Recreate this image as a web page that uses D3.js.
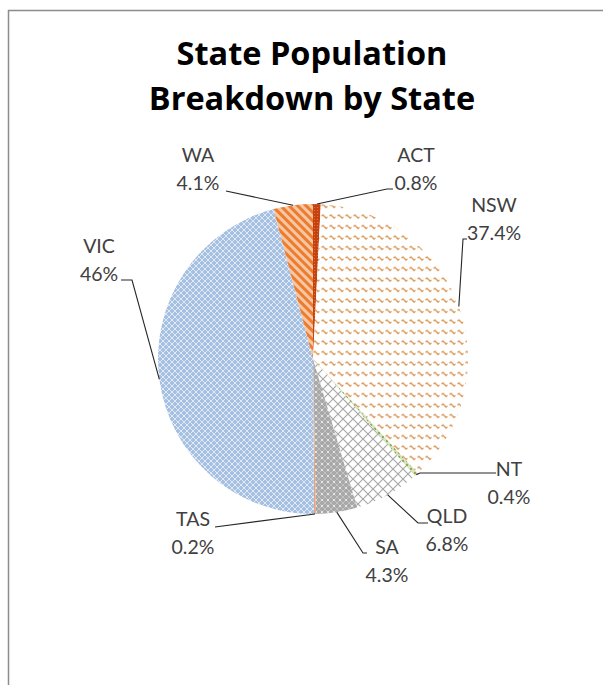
<!DOCTYPE html>
<html>
<head>
<meta charset="utf-8">
<script src="https://cdn.jsdelivr.net/npm/d3@7"></script>
<style>
html,body{margin:0;padding:0;background:#fff;}
svg{display:block;}
</style>
</head>
<body>
<svg id="chart" width="603" height="685"></svg>
<script>
// ---- data ----
const titleLines = ["State Population", "Breakdown by State"];
const states = ["ACT", "NSW", "NT", "QLD", "SA", "TAS", "VIC", "WA"];
const shares = [0.8, 37.4, 0.4, 6.8, 4.3, 0.2, 46, 4.1];
const shareLabels = ["0.8%", "37.4%", "0.4%", "6.8%", "4.3%", "0.2%", "46%", "4.1%"];

// ---- layout (not data) ----
const W = 603, H = 685;
const cx = 313, cy = 359, R = 155;
// label block: centre x, first baseline, leader start points (before reaching the slice)
const labelLayout = {
  ACT: {x: 416, y: 162, pts: [[393, 189], [387, 189]]},
  NSW: {x: 494, y: 212, pts: [[467, 239], [463, 239]]},
  NT:  {x: 509, y: 476, pts: [[496, 473], [420, 473]]},
  QLD: {x: 447, y: 523, pts: [[428, 523], [418, 523]]},
  SA:  {x: 387, y: 554, pts: [[367, 553], [363, 553]]},
  TAS: {x: 193, y: 526, pts: [[215, 527]]},
  VIC: {x: 99,  y: 253, pts: [[121, 280], [132, 280]]},
  WA:  {x: 198, y: 162, pts: [[226, 191]]}
};
const lineGap = 28;

const svg = d3.select("#chart");
const defs = svg.append("defs");

// patterns
function pat(id, w, h, bg, build, transform) {
  const p = defs.append("pattern").attr("id", id).attr("patternUnits", "userSpaceOnUse")
    .attr("width", w).attr("height", h);
  if (transform) p.attr("patternTransform", transform);
  p.append("rect").attr("width", w).attr("height", h).attr("fill", bg);
  build(p);
}
pat("pACT", 3, 3, "#c5420f", p => p.append("circle").attr("cx", 1.5).attr("cy", 1.5).attr("r", 0.6).attr("fill", "#e07a40"));
pat("pNSW", 8, 10.5, "#ffffff", p => p.append("path").attr("d", "M0.5,4 L2,3 L5,6 L6.5,5")
  .attr("fill", "none").attr("stroke", "#d9944f").attr("stroke-width", 1.3));
pat("pNT", 4, 4, "#d9e4c0", p => p.append("circle").attr("cx", 2).attr("cy", 2).attr("r", 1.2).attr("fill", "#8aab52"));
pat("pQLD", 10, 10, "#ffffff", p => p.append("path").attr("d", "M0,0 L10,10 M10,0 L0,10")
  .attr("stroke", "#a6a6a6").attr("stroke-width", 1.1));
pat("pSA", 6, 6, "#a8a8a8", p => {
  p.append("path").attr("d", "M0,0 L6,6 M6,0 L0,6").attr("stroke", "#cdcdcd").attr("stroke-width", 0.7);
  p.append("circle").attr("cx", 3).attr("cy", 3).attr("r", 0.9).attr("fill", "#f4f4f4");
});
pat("pTAS", 4, 4, "#e8a47a", p => {});
pat("pVIC", 6, 6, "#a6c0e1", p => {
  p.append("path").attr("d", "M0,0 L6,6 M6,0 L0,6").attr("stroke", "#e6eef8").attr("stroke-width", 0.9);
});
pat("pWA", 6, 6, "#f6c7a2", p => p.append("rect").attr("width", 3).attr("height", 6).attr("fill", "#ec7c30"), "rotate(-45)");

const fills = {ACT: "pACT", NSW: "pNSW", NT: "pNT", QLD: "pQLD", SA: "pSA", TAS: "pTAS", VIC: "pVIC", WA: "pWA"};

// border
svg.append("rect").attr("x", 8.5).attr("y", 10.5).attr("width", 800).attr("height", 900)
  .attr("fill", "none").attr("stroke", "#8c8c8c").attr("stroke-width", 1.5);

// title
svg.append("g").selectAll("text").data(titleLines).join("text")
  .attr("x", 312).attr("y", (d, i) => 65 + i * 45)
  .attr("text-anchor", "middle")
  .attr("font-family", "'Open Sans', Lato, sans-serif")
  .attr("font-weight", "bold").attr("font-size", 32.5).attr("fill", "#000")
  .text(d => d);

// pie
const data = states.map((s, i) => ({state: s, value: shares[i], label: shareLabels[i]}));
const pie = d3.pie().sort(null).value(d => d.value);
const arcs = pie(data);
const arc = d3.arc().innerRadius(0).outerRadius(R);
const edgeArc = d3.arc().innerRadius(R).outerRadius(R);

const g = svg.append("g").attr("transform", `translate(${cx},${cy})`);
g.selectAll("path.slice").data(arcs).join("path").attr("class", "slice")
  .attr("d", arc).attr("fill", d => `url(#${fills[d.data.state]})`);

// leader lines
const line = d3.line();
svg.append("g").selectAll("path").data(arcs).join("path")
  .attr("d", d => {
    const c = edgeArc.centroid(d);
    const pts = labelLayout[d.data.state].pts.concat([[c[0] + cx, c[1] + cy]]);
    return line(pts);
  })
  .attr("fill", "none").attr("stroke", "#262626").attr("stroke-width", 1.1);

// labels
const lg = svg.append("g").attr("font-family", "Lato, 'Open Sans', sans-serif")
  .attr("font-size", 19.5).attr("fill", "#404040").attr("text-anchor", "middle");
arcs.forEach(d => {
  const L = labelLayout[d.data.state];
  lg.append("text").attr("x", L.x).attr("y", L.y).text(d.data.state);
  lg.append("text").attr("x", L.x).attr("y", L.y + lineGap).text(d.data.label);
});
</script>
</body>
</html>
